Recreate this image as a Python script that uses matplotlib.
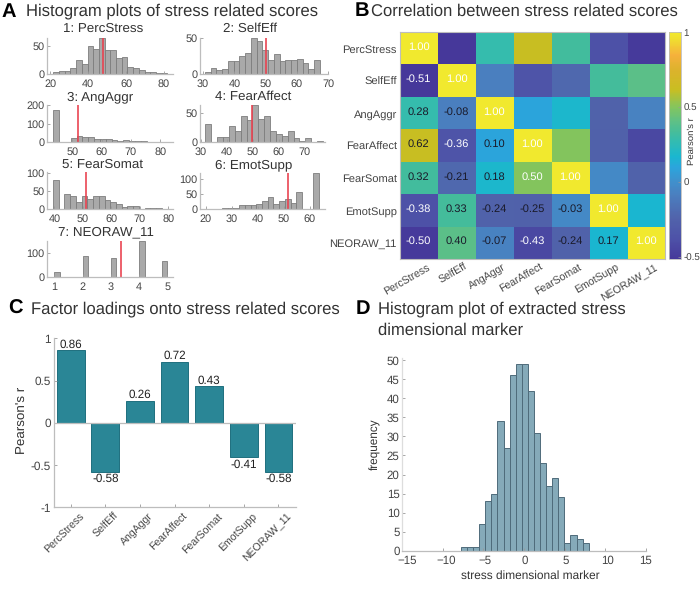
import matplotlib
matplotlib.use("Agg")
import matplotlib.pyplot as plt
import numpy as np
from matplotlib.colors import LinearSegmentedColormap, Normalize
from matplotlib.cm import ScalarMappable
from matplotlib.transforms import ScaledTranslation

plt.rcParams['font.family'] = ['Liberation Sans', 'DejaVu Sans']
plt.rcParams['text.hinting'] = 'no_hinting'

W, H = 700, 592
TXT = '#333333'
AXC = '#bdbdbd'

scores = ['PercStress', 'SelfEff', 'AngAggr', 'FearAffect', 'FearSomat', 'EmotSupp', 'NEORAW_11']

# histogram counts per score, with first bin edge and bin width
perc_counts = [3, 5, 6, 11, 25, 18, 49, 45, 64, 42, 42, 28, 30, 12, 10, 7, 3, 4, 2, 2]
self_counts = [3, 9, 6, 7, 18, 18, 25, 29, 50, 46, 33, 20, 28, 18, 20, 20, 21, 15, 7, 20]
ang_counts = [175, 0, 0, 22, 35, 28, 28, 18, 17, 17, 13, 8, 10, 8, 3, 3, 2, 2, 1, 1]
fear_counts = [31, 0, 9, 9, 27, 18, 44, 37, 63, 39, 44, 18, 14, 10, 18, 6, 1, 6, 0, 1]
somat_counts = [80, 0, 41, 36, 20, 36, 28, 35, 37, 25, 20, 14, 6, 8, 8, 1, 2, 2, 2, 1]
emot_counts = [1, 0, 1, 2, 3, 5, 14, 12, 12, 18, 27, 40, 18, 28, 34, 21, 57, 0, 1, 120]
neo_counts = [22, 0, 0, 0, 0, 87, 0, 0, 0, 0, 80, 0, 0, 0, 0, 152, 0, 0, 0, 67]
hist_counts = [perc_counts, self_counts, ang_counts, fear_counts, somat_counts, emot_counts, neo_counts]
hist_start = [21.75, 30.6, 43.4, 31.8, 39.5, 19.6, 1.0]
hist_width = [3.0, 1.84, 2.0, 2.26, 2.01, 2.2, 0.2]
hist_mean = [48, 50, 51.8, 49.7, 51.1, 51.5, 3.35]
hist_xticks = [[20, 40, 60, 80], [30, 40, 50, 60, 70], [50, 60, 70, 80], [30, 40, 50, 60, 70],
               [40, 50, 60, 70, 80], [20, 30, 40, 50, 60], [1, 2, 3, 4, 5]]
hist_yticks = [[0, 50], [0, 50], [0, 100, 200], [0, 50], [0, 50, 100], [0, 50, 100], [0, 100]]
hist_xlim = [(18.4, 84.7), (29.0, 69.4), (41.3, 84.4), (29.7, 77.8), (37.4, 81.6), (17.7, 65.9), (0.74, 5.2)]
hist_ylim = [64, 50, 200, 63, 103, 120, 150]

# lower triangle of the correlation matrix
corr_rows = [
    [1.00],
    [-0.51, 1.00],
    [0.28, -0.08, 1.00],
    [0.62, -0.36, 0.10, 1.00],
    [0.32, -0.21, 0.18, 0.50, 1.00],
    [-0.38, 0.33, -0.24, -0.25, -0.03, 1.00],
    [-0.50, 0.40, -0.07, -0.43, -0.24, 0.17, 1.00],
]

loadings = [0.86, -0.58, 0.26, 0.72, 0.43, -0.41, -0.58]

marker_start = -7.77
marker_width = 0.75
marker_counts = [1, 1, 1, 7, 13, 15, 34, 27, 46, 49, 49, 42, 31, 23, 17, 19, 14, 2, 4, 3, 2]


def px_axes(l, t, r, b):
    return fig.add_axes([l / W, 1 - b / H, (r - l) / W, (b - t) / H])


def px_text(x, y, s, **kw):
    kw.setdefault('color', TXT)
    kw.setdefault('va', 'center')
    return fig.text(x / W, 1 - y / H, s, **kw)


def clean(ax, size=7.5):
    for side in ['top', 'right']:
        ax.spines[side].set_visible(False)
    for side in ['left', 'bottom']:
        ax.spines[side].set_color(AXC)
        ax.spines[side].set_linewidth(0.9)
    ax.tick_params(direction='in', length=2, width=0.6, color='#999999',
                   labelcolor='#444444', labelsize=size, pad=2)


fig = plt.figure(figsize=(W / 100, H / 100), dpi=100)

# panel letters and headings
px_text(2, 12, 'A', fontsize=14.5, fontweight='bold', color='black')
px_text(26, 11, 'Histogram plots of stress related scores', fontsize=12)
px_text(355, 11, 'B', fontsize=14.5, fontweight='bold', color='black')
px_text(371, 11, 'Correlation between stress related scores', fontsize=12)
px_text(8, 309, 'C', fontsize=14.5, fontweight='bold', color='black')
px_text(31, 309, 'Factor loadings onto stress related scores', fontsize=12)
px_text(356, 309, 'D', fontsize=14.5, fontweight='bold', color='black')
px_text(378, 309, 'Histogram plot of extracted stress', fontsize=12)
px_text(378, 330, 'dimensional marker', fontsize=12)

# A: small histograms
hist_boxes = [(47, 38, 173, 74), (200, 38, 328, 74), (47, 105, 173, 142), (200, 105, 325, 142),
              (47, 172, 173, 209), (200, 173, 325, 209), (47, 241, 173, 277)]
hist_title_xy = [(103, 29), (250.5, 29), (100, 97), (253, 97), (103, 165), (253.5, 165), (106, 232)]
for i, name in enumerate(scores):
    ax = px_axes(*hist_boxes[i])
    edges = hist_start[i] + hist_width[i] * np.arange(len(hist_counts[i]))
    ax.bar(edges, hist_counts[i], width=hist_width[i], align='edge',
           color='#a9a9a9', edgecolor='#7d7d7d', linewidth=0.6)
    ax.axvline(hist_mean[i], color='#e9414f', linewidth=1.3, alpha=0.9)
    ax.set_xlim(*hist_xlim[i])
    ax.set_ylim(0, hist_ylim[i])
    ax.set_xticks(hist_xticks[i])
    ax.set_yticks(hist_yticks[i])
    clean(ax, 7.8)
    ax.tick_params(axis='x', pad=3.5)
    px_text(*hist_title_xy[i], f'{i + 1}: {name}', fontsize=9.6, ha='center')

# B: correlation heatmap
n = len(scores)
corr = np.zeros((n, n))
for r, row in enumerate(corr_rows):
    for c, v in enumerate(row):
        corr[r, c] = v
        corr[c, r] = v

cmap_stops = [(-0.515, '#46389a'), (-0.38, '#4e52a8'), (-0.24, '#5163ab'), (-0.08, '#4a80c0'),
              (0.0, '#4090cc'), (0.10, '#2ba5dc'), (0.17, '#1ab7d0'), (0.28, '#35bcae'),
              (0.33, '#45bd9b'), (0.40, '#5cc088'), (0.50, '#83c55e'), (0.62, '#c9be22'),
              (0.75, '#dcb22c'), (0.85, '#f6b13c'), (0.95, '#f0dc30'), (1.0, '#f1e92e')]
vmin, vmax = -0.515, 1.0
parula_ish = LinearSegmentedColormap.from_list(
    'parula_ish', [((v - vmin) / (vmax - vmin), c) for v, c in cmap_stops])
norm = Normalize(vmin, vmax)

ax = px_axes(399.7, 32.3, 664.7, 259.3)
ax.imshow(corr, cmap=parula_ish, norm=norm, aspect='auto')
for r, row in enumerate(corr_rows):
    for c, v in enumerate(row):
        white = v < -0.3 or v == 0.5 or v == 1
        ax.text(c, r - 0.05, f'{v:.2f}', ha='center', va='center', fontsize=8,
                color='white' if white else '#1a1a2a')
ax.set_xticks(range(n))
ax.set_yticks(range(n))
ax.set_yticklabels(scores)
ax.set_xticklabels(scores, rotation=30, ha='right', rotation_mode='anchor')
ax.tick_params(length=0, labelcolor='#444444', labelsize=8, pad=2)
ax.tick_params(axis='x', labelsize=7.6)
shift = ScaledTranslation(8 / 100, 0, fig.dpi_scale_trans)
for lab in ax.get_xticklabels():
    lab.set_transform(lab.get_transform() + shift)
for s in ax.spines.values():
    s.set_color(AXC)
    s.set_linewidth(0.8)

cax = px_axes(669.3, 32.3, 680.7, 259.3)
cb = fig.colorbar(ScalarMappable(norm=norm, cmap=parula_ish), cax=cax)
cb.set_ticks([-0.5, 0, 0.5, 1])
cb.set_ticklabels(['-0.5', '0', '0.5', '1'])
cb.ax.tick_params(direction='in', length=2, width=0.5, color='#999999',
                  labelcolor='#444444', labelsize=7, pad=2)
cb.outline.set_edgecolor(AXC)
cb.outline.set_linewidth(0.6)
px_text(692, 141, "Pearson's r", fontsize=6.8, rotation=90, ha='center')

# C: factor loadings
ax = px_axes(53.7, 338.3, 295.7, 507.3)
x = np.arange(1, n + 1)
ax.bar(x, loadings, width=0.8, color='#2a8696', edgecolor='#1f6f7e', linewidth=0.7)
for xi, v in zip(x, loadings):
    ax.text(xi, v + (0.003 if v > 0 else -0.015), f'{v:.2f}', ha='center',
            va='bottom' if v > 0 else 'top', fontsize=8.4, color='#222222')
ax.axhline(0, color=AXC, linewidth=0.9, zorder=3)
ax.set_xlim(0.51, 7.5)
ax.set_ylim(-1, 1)
ax.set_yticks([-1, -0.5, 0, 0.5, 1])
ax.set_yticklabels(['-1', '-0.5', '0', '0.5', '1'])
ax.set_xticks(x)
ax.set_xticklabels(scores, rotation=45, ha='right', rotation_mode='anchor')
clean(ax, 8.5)
ax.tick_params(axis='x', labelsize=7.6)
shift = ScaledTranslation(8 / 100, -1 / 100, fig.dpi_scale_trans)
for lab in ax.get_xticklabels():
    lab.set_transform(lab.get_transform() + shift)
px_text(23, 420, "Pearson's r", fontsize=9.6, rotation=90, ha='center')

# D: marker histogram
ax = px_axes(402.3, 358.3, 645.7, 550.7)
edges = marker_start + marker_width * np.arange(len(marker_counts))
ax.bar(edges, marker_counts, width=marker_width, align='edge',
       color='#85aab9', edgecolor='#4f6b7a', linewidth=0.7)
ax.set_xlim(-15, 15)
ax.set_ylim(0, 50.5)
ax.set_xticks([-15, -10, -5, 0, 5, 10, 15])
ax.set_yticks(range(0, 51, 5))
clean(ax, 8.3)
ax.tick_params(axis='x', pad=3.5)
ax.spines['left'].set_color('#dddddd')
# x labels sit a little right of their ticks, most at the left end
for lab, dx in zip(ax.get_xticklabels(), [4.5, 3.5, 2, 1, 1, 2, 0]):
    lab.set_transform(lab.get_transform() + ScaledTranslation(dx / 100, 0, fig.dpi_scale_trans))
px_text(375, 444, 'frequency', fontsize=8.5, rotation=90, ha='center')
px_text(530, 576, 'stress dimensional marker', fontsize=8.6, ha='center')

fig.savefig('out.png', dpi=100)
